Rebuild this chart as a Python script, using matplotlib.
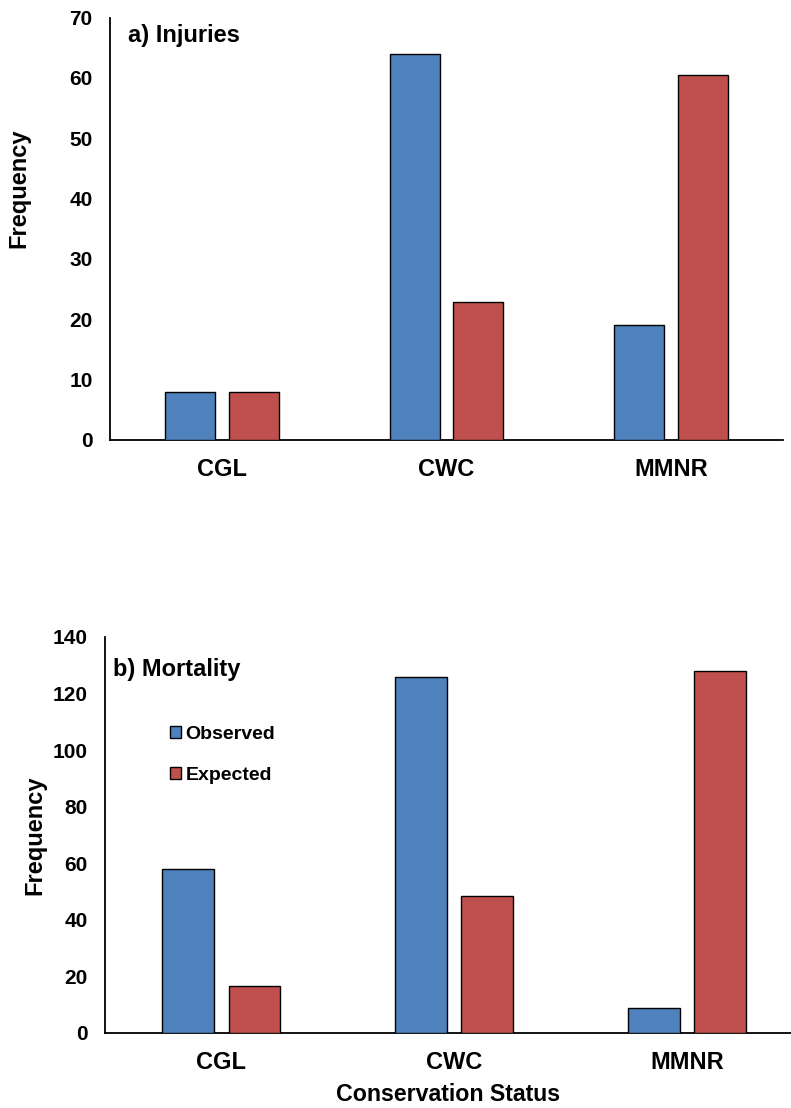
import numpy as np
import matplotlib
matplotlib.use("Agg")
import matplotlib.pyplot as plt

plt.rcParams['font.family'] = ['Liberation Sans', 'DejaVu Sans']
plt.rcParams['font.weight'] = 'bold'

# ---------------------------------------------------------------------
# Data
# ---------------------------------------------------------------------
categories = ['CGL', 'CWC', 'MMNR']
series_names = ['Observed', 'Expected']

injuries_observed = [8, 64, 19]
injuries_expected = [7.9, 22.8, 60.4]

mortality_observed = [58, 126, 8.8]
mortality_expected = [16.5, 48.3, 127.8]

colors = {'Observed': '#4F81BD', 'Expected': '#C0504D'}

# ---------------------------------------------------------------------
# Figure
# ---------------------------------------------------------------------
fig = plt.figure(figsize=(7.91, 11.08), dpi=100)
ax_a = fig.add_axes([0.1391, 0.6029, 0.8508, 0.3813])
ax_b = fig.add_axes([0.1327, 0.0680, 0.8673, 0.3571])

bar_w = 0.223
offset = 0.142
x = np.arange(len(categories))


def draw_panel(ax, observed, expected, ymax, ystep, title, title_xy, ylab_xy, xlim):
    ax.bar(x - offset, observed, width=bar_w, color=colors['Observed'],
           edgecolor='black', linewidth=1, label='Observed', zorder=3)
    ax.bar(x + offset, expected, width=bar_w, color=colors['Expected'],
           edgecolor='black', linewidth=1, label='Expected', zorder=3)
    ax.set_xlim(*xlim)
    ax.set_ylim(0, ymax)
    ax.set_yticks(np.arange(0, ymax + 1, ystep))
    ax.set_xticks(x)
    ax.set_xticklabels(categories, fontsize=17, fontweight='bold')
    ax.tick_params(axis='y', length=0, pad=12.5, labelsize=15)
    ax.tick_params(axis='x', length=0, pad=13)
    for lab in ax.get_yticklabels():
        lab.set_fontweight('bold')
    for s in ['top', 'right']:
        ax.spines[s].set_visible(False)
    for s in ['left', 'bottom']:
        ax.spines[s].set_linewidth(1.3)
    ax.set_ylabel('Frequency', fontsize=17, fontweight='bold')
    ax.yaxis.set_label_coords(*ylab_xy)
    ax.text(title_xy[0], title_xy[1], title, transform=ax.transAxes,
            fontsize=17, fontweight='bold', ha='left', va='center')


draw_panel(ax_a, injuries_observed, injuries_expected, 70, 10,
           'a) Injuries', (0.027, 0.958), (-0.119, 0.596), (-0.5, 2.5))
draw_panel(ax_b, mortality_observed, mortality_expected, 140, 20,
           'b) Mortality', (0.012, 0.917), (-0.085, 0.5), (-0.5, 2.446))

ax_b.set_xlabel('Conservation Status', fontsize=16.7, fontweight='bold', labelpad=6.5)

leg = ax_b.legend(loc='upper left', bbox_to_anchor=(0.095, 0.776), frameon=False,
                  fontsize=14, handlelength=0.55, handleheight=0.55,
                  handletextpad=0.25, labelspacing=1.25, borderpad=0,
                  borderaxespad=0)
for t in leg.get_texts():
    t.set_fontweight('bold')

fig.savefig('out.png', dpi=100)
